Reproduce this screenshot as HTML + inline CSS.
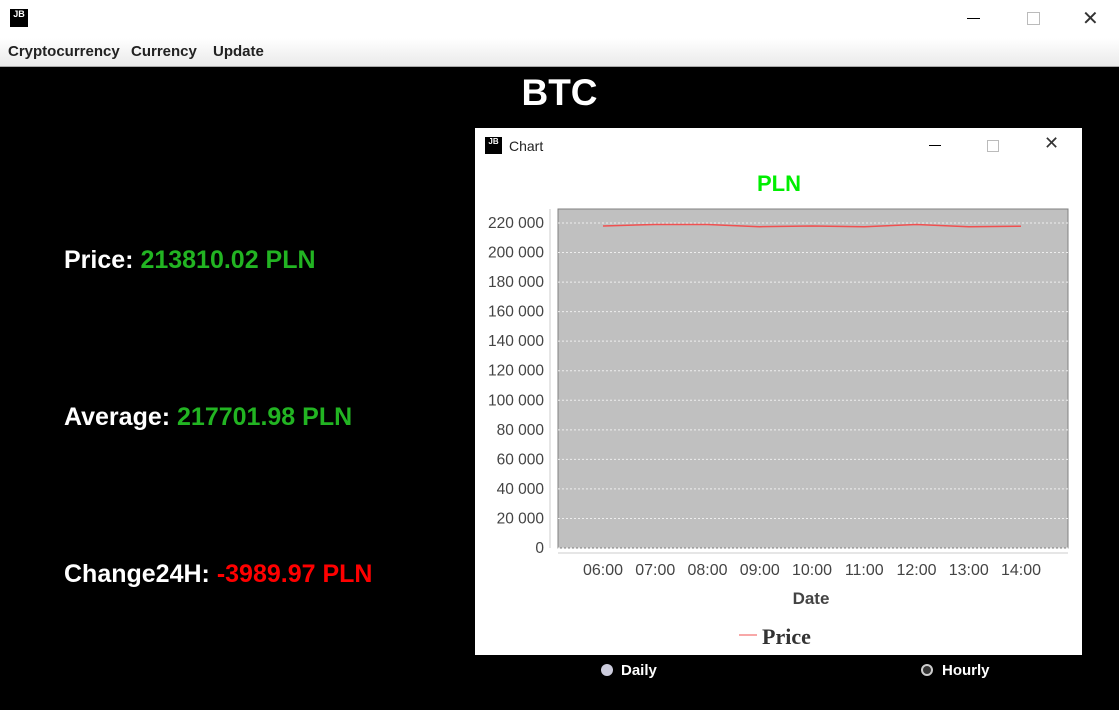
<!DOCTYPE html>
<html><head><meta charset="utf-8"><style>
body{margin:0;width:1119px;height:710px;background:#000;font-family:"Liberation Sans",sans-serif;overflow:hidden;position:relative}
.abs{position:absolute}
</style></head><body>
<div class="abs" style="left:0;top:0;width:1119px;height:38px;background:#fff">
 <div class="abs" style="left:10px;top:9px;width:18px;height:18px;background:#000;color:#fff;font-size:9px;font-weight:bold;line-height:11px;text-align:center">JB</div>
 <div class="abs" style="left:967px;top:18px;width:13px;height:1px;background:#000"></div>
 <div class="abs" style="left:1027px;top:12px;width:11px;height:11px;border:1px solid #bbb"></div>
 <div class="abs" style="left:1082px;top:6px;font-size:20px;color:#333">✕</div>
</div>
<div class="abs" style="left:0;top:38px;width:1119px;height:28px;background:linear-gradient(#fff,#eaeaea);border-bottom:1px solid #aaa;font-size:15px;font-weight:bold;color:#222">
 <span class="abs" style="left:8px;top:5px">Cryptocurrency</span>
 <span class="abs" style="left:131px;top:5px">Currency</span>
 <span class="abs" style="left:213px;top:5px">Update</span>
</div>
<div class="abs" style="left:0;width:1119px;top:72px;text-align:center;color:#fff;font-size:37px;font-weight:bold">BTC</div>
<div class="abs" style="left:64px;top:246px;color:#fff;font-size:25px;font-weight:bold">Price: <span style="color:#22b422">213810.02 PLN</span></div>
<div class="abs" style="left:64px;top:403px;color:#fff;font-size:25px;font-weight:bold">Average: <span style="color:#22b422">217701.98 PLN</span></div>
<div class="abs" style="left:64px;top:560px;color:#fff;font-size:25px;font-weight:bold">Change24H: <span style="color:#f00">-3989.97 PLN</span></div>
<div class="abs" style="left:475px;top:128px;width:607px;height:527px;background:#fff">
 <div class="abs" style="left:10px;top:9px;width:17px;height:17px;background:#000;color:#fff;font-size:8px;font-weight:bold;line-height:10px;text-align:center">JB</div>
 <span class="abs" style="left:34px;top:10px;font-size:14px;color:#222">Chart</span>
 <div class="abs" style="left:454px;top:17px;width:12px;height:1px;background:#000"></div>
 <div class="abs" style="left:512px;top:12px;width:10px;height:10px;border:1px solid #bbb"></div>
 <div class="abs" style="left:569px;top:5px;font-size:18px;color:#333">✕</div>
</div>
<svg class="abs" style="left:0;top:0" width="1119" height="710" id="chart"></svg>
<div class="abs" style="left:601px;top:662px;color:#fff;font-size:15px;font-weight:bold"><span style="display:inline-block;width:12px;height:12px;border-radius:50%;background:#ccd;vertical-align:-1px;margin-right:8px"></span>Daily</div>
<div class="abs" style="left:921px;top:662px;color:#fff;font-size:15px;font-weight:bold"><span style="display:inline-block;width:8px;height:8px;border-radius:50%;background:#333;border:2px solid #ccc;vertical-align:-1px;margin-right:9px"></span>Hourly</div>
<script>
const hours=["06:00","07:00","08:00","09:00","10:00","11:00","12:00","13:00","14:00"];
const prices=[218000,219000,219000,217500,218000,217500,219000,217500,217800];
const yTicks=[0,20000,40000,60000,80000,100000,120000,140000,160000,180000,200000,220000];
const NS="http://www.w3.org/2000/svg";
const svg=document.getElementById('chart');
const L=558,R=1068,T=209,B=548;
const y=v=>548-v*(325/220000);
const x=i=>603+i*52.25;
function el(t,a,txt){const e=document.createElementNS(NS,t);for(const k in a)e.setAttribute(k,a[k]);if(txt!==undefined)e.textContent=txt;svg.appendChild(e);return e;}
let e=el('text',{x:779,y:191,'text-anchor':'middle','font-size':'22','font-weight':'bold',fill:'#00ee00','font-family':'Liberation Sans'},'PLN');

e=el('rect',{x:L,y:T,width:R-L,height:B-T,fill:'#c0c0c0',stroke:'#808080'});

yTicks.forEach(v=>{
 const g=el('line',{x1:L,x2:R,y1:y(v),y2:y(v),stroke:'#eee','stroke-dasharray':'2,2','stroke-width':1});
 
 const t=el('text',{x:544,y:y(v)+5,'text-anchor':'end','font-size':'15.5',fill:'#444','font-family':'Liberation Sans'},v===0?'0':(v/1000)+' 000');
 
});
e=el('line',{x1:550,x2:550,y1:T,y2:B,stroke:'#ccc'});
e=el('line',{x1:L,x2:R,y1:553,y2:553,stroke:'#ccc'});
hours.forEach((h,i)=>{
 const t=el('text',{x:x(i),y:575,'text-anchor':'middle','font-size':'16','font-family':'Liberation Sans',fill:'#444'},h);
 
});
e=el('text',{x:811,y:604,'text-anchor':'middle','font-size':'17','font-weight':'bold',fill:'#444','font-family':'Liberation Sans'},'Date');

e=el('polyline',{points:prices.map((p,i)=>x(i)+','+y(p)).join(' '),fill:'none',stroke:'#f05050','stroke-width':1.5});

e=el('line',{x1:739,x2:757,y1:635,y2:635,stroke:'#f05050'});
e=el('text',{x:762,y:644,'font-size':'22','font-weight':'bold',fill:'#333','font-family':'Liberation Serif'},'Price');

</script>
</body></html>
